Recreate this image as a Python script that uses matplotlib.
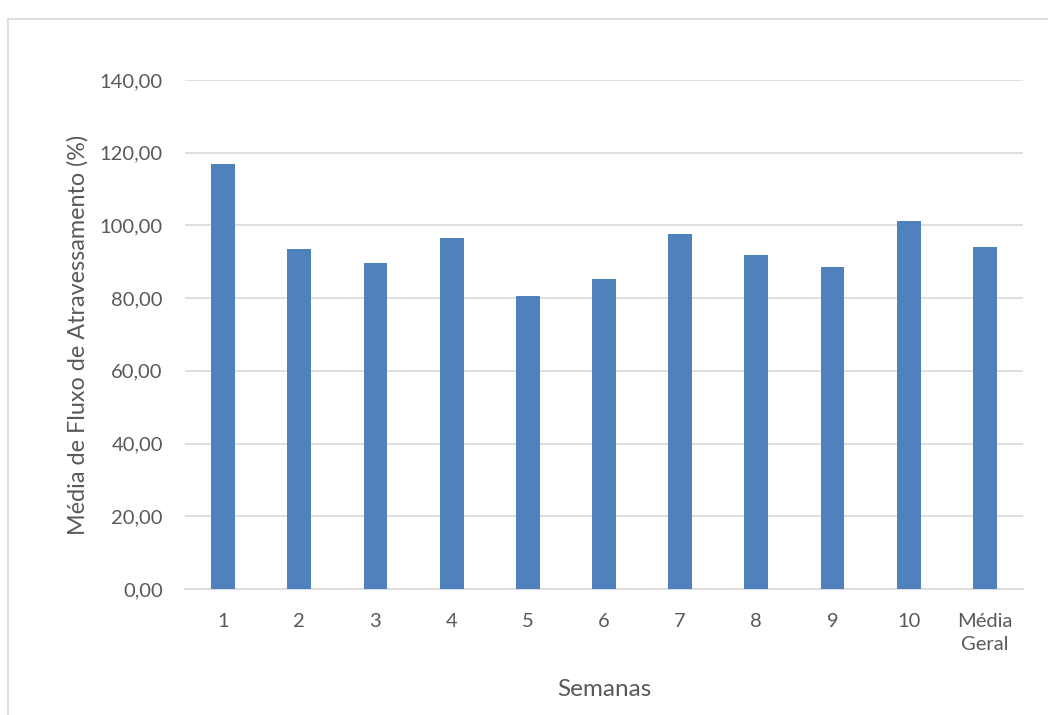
import matplotlib.pyplot as plt
from matplotlib.lines import Line2D
from matplotlib.ticker import FuncFormatter

semanas = ['1', '2', '3', '4', '5', '6', '7', '8', '9', '10', 'Média\nGeral']
fluxo = [116.9, 93.6, 89.6, 96.5, 80.7, 85.2, 97.7, 91.9, 88.5, 101.1, 94.1]
yticks = [0, 20, 40, 60, 80, 100, 120, 140]

plt.rcParams['font.family'] = ['Lato', 'DejaVu Sans']
cinza = '#595959'
grade = '#d9d9d9'

fig = plt.figure(figsize=(10.48, 7.15), dpi=100)
ax = fig.add_axes([185 / 1048, 1 - 589 / 715, (1023 - 185) / 1048, (589 - 80) / 715])

x = range(len(semanas))
ax.bar(x, fluxo, width=0.313, color='#4f81bd', zorder=3)

ax.set_ylim(0, 140)
ax.set_xlim(-0.5, len(semanas) - 0.5)
ax.set_yticks(yticks)
ax.yaxis.set_major_formatter(FuncFormatter(lambda v, p: f'{v:.2f}'.replace('.', ',')))
ax.set_xticks(list(x))
ax.set_xticklabels(semanas, linespacing=1.45)
ax.tick_params(length=0, labelsize=14.5, colors=cinza)
ax.tick_params(axis='x', pad=17)
ax.tick_params(axis='y', pad=16)
ax.grid(axis='y', color=grade, linewidth=1.2, zorder=0)
for s in ['top', 'right', 'left']:
    ax.spines[s].set_visible(False)
ax.spines['bottom'].set_color(grade)
ax.spines['bottom'].set_linewidth(1.2)

ax.set_ylabel('Média de Fluxo de Atravessamento (%)', fontsize=16.8, color=cinza, labelpad=8)
ax.set_xlabel('Semanas', fontsize=17.5, color=cinza, labelpad=19)

# moldura da área do gráfico
fig.add_artist(Line2D([8 / 1048, 8 / 1048], [0, 1 - 19 / 715], color=grade, linewidth=1.2))
fig.add_artist(Line2D([8 / 1048, 1], [1 - 19 / 715, 1 - 19 / 715], color=grade, linewidth=1.2))

fig.savefig('out.png', dpi=100)
